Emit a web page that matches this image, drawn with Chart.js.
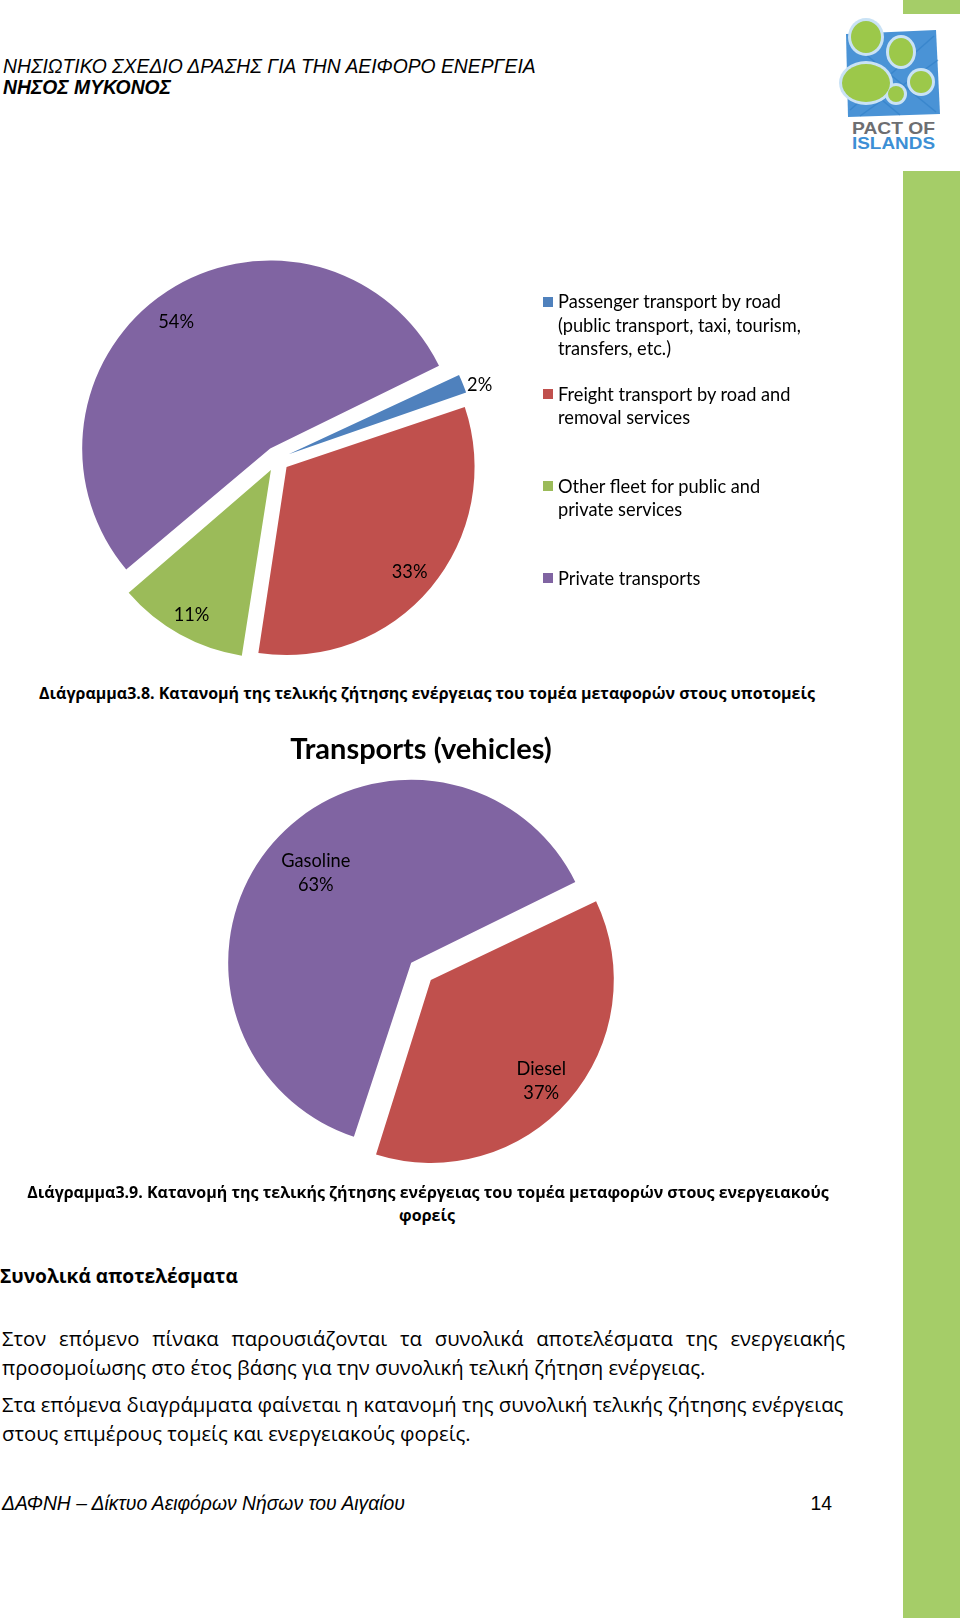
<!DOCTYPE html>
<html><head><meta charset="utf-8">
<script src="https://cdn.jsdelivr.net/npm/chart.js@4.4.1/dist/chart.umd.min.js"></script>
<style>
html,body{margin:0;padding:0;background:#fff;}
body{width:960px;height:1618px;position:relative;overflow:hidden;}
.t{position:absolute;white-space:nowrap;color:#000;line-height:1;}
.arial{font-family:"Liberation Sans",Arial,sans-serif;}
.cal{font-family:"Open Sans","Noto Sans",sans-serif;}
canvas{position:absolute;}
#legend{position:absolute;left:0;top:0;}
.lg{position:absolute;left:558px;white-space:nowrap;font-family:Lato,"Open Sans",sans-serif;color:#000;}
.sw{position:absolute;left:543px;width:10px;height:10px;}
</style></head><body>

<div style="position:absolute;left:903px;top:0;width:57px;height:14px;background:#A5CD68"></div>
<div style="position:absolute;left:903px;top:171px;width:57px;height:1447px;background:#A5CD68"></div>

<svg style="position:absolute;left:830px;top:10px" width="120" height="145" viewBox="830 10 120 145">
  <path d="M846 34 L936 30 L940 114 L848 117 Z" fill="#4A93D6"/>
  <g stroke="#2F7FC8" stroke-width="1.5" opacity="0.6">
    <line x1="848" y1="40" x2="936" y2="112"/><line x1="850" y1="110" x2="934" y2="36"/>
    <line x1="860" y1="116" x2="938" y2="60"/><line x1="846" y1="70" x2="900" y2="115"/>
  </g>
  <g fill="#C9E2F5">
    <ellipse cx="866" cy="37" rx="18" ry="19"/><ellipse cx="901" cy="52" rx="15" ry="17"/>
    <ellipse cx="866" cy="83" rx="27" ry="22"/><ellipse cx="921" cy="82" rx="14" ry="14"/>
    <ellipse cx="896" cy="94" rx="11" ry="11"/>
  </g>
  <g fill="#9CC84A">
    <ellipse cx="866" cy="37" rx="15" ry="16"/><ellipse cx="901" cy="52" rx="12" ry="14"/>
    <ellipse cx="866" cy="83" rx="24" ry="19"/><ellipse cx="921" cy="82" rx="11" ry="11"/>
    <ellipse cx="896" cy="94" rx="8" ry="8"/>
  </g>
  <text x="893.5" y="133.5" text-anchor="middle" font-family="Liberation Sans Narrow, Liberation Sans, sans-serif" font-weight="bold" font-size="17" fill="#6D6E71" textLength="83" lengthAdjust="spacingAndGlyphs">PACT OF</text>
  <text x="893.5" y="148.5" text-anchor="middle" font-family="Liberation Sans Narrow, Liberation Sans, sans-serif" font-weight="bold" font-size="17" fill="#3C8FD5" textLength="83" lengthAdjust="spacingAndGlyphs">ISLANDS</text>
</svg>

<div class="t arial" data-g="hdr" data-fit="1" data-x="3" data-cy="66.4" data-w="533" data-k="0.488" style="font-style:italic">ΝΗΣΙΩΤΙΚΟ ΣΧΕΔΙΟ ΔΡΑΣΗΣ ΓΙΑ ΤΗΝ ΑΕΙΦΟΡΟ ΕΝΕΡΓΕΙΑ</div>
<div class="t arial" data-g="hdr" data-x="3" data-cy="87" data-k="0.488" style="font-style:italic;font-weight:bold">ΝΗΣΟΣ ΜΥΚΟΝΟΣ</div>

<canvas id="c1" width="540" height="440" style="left:7px;top:239px"></canvas>
<div id="legend"></div>

<div class="t cal" data-g="cap" data-cx="427" data-cy="693.5" data-k="0.55" style="font-weight:bold">Διάγραμμα3.8. Κατανομή της τελικής ζήτησης ενέργειας του τομέα μεταφορών στους υποτομείς</div>

<canvas id="c2" width="560" height="470" style="left:141px;top:723px"></canvas>

<div class="t cal" data-g="cap" data-fit="1" data-cx="428" data-cy="1192.3" data-w="802" data-k="0.55" style="font-weight:bold">Διάγραμμα3.9. Κατανομή της τελικής ζήτησης ενέργειας του τομέα μεταφορών στους ενεργειακούς</div>
<div class="t cal" data-g="cap" data-cx="427" data-cy="1217" data-k="0.6" style="font-weight:bold">φορείς</div>

<div class="t cal" data-g="hd" data-fit="1" data-x="0" data-cy="1278" data-w="238" data-k="0.55" style="font-weight:bold">Συνολικά αποτελέσματα</div>

<div class="t cal" data-g="body" data-x="2" data-cy="1340" data-k="0.6" data-just="843" style="text-align:justify;text-align-last:justify;white-space:normal">Στον επόμενο πίνακα παρουσιάζονται τα συνολικά αποτελέσματα της ενεργειακής</div>
<div class="t cal" data-g="body" data-x="2" data-cy="1368.8" data-k="0.6">προσομοίωσης στο έτος βάσης για την συνολική τελική ζήτηση ενέργειας.</div>
<div class="t cal" data-g="body" data-fit="1" data-x="2" data-cy="1406" data-w="842" data-k="0.6">Στα επόμενα διαγράμματα φαίνεται η κατανομή της συνολική τελικής ζήτησης ενέργειας</div>
<div class="t cal" data-g="body" data-x="2" data-cy="1435" data-k="0.6">στους επιμέρους τομείς και ενεργειακούς φορείς.</div>

<div class="t arial" data-g="ftr" data-fit="1" data-x="2" data-cy="1503.5" data-w="403" data-k="0.488" style="font-style:italic">ΔΑΦΝΗ – Δίκτυο Αειφόρων Νήσων του Αιγαίου</div>
<div class="t arial" data-g="ftr" data-rx="832" data-cy="1503.5" data-k="0.488">14</div>

<script>
// ---- chart data ----
const subsectorLabels = [
  ['Passenger transport by road', '(public transport, taxi, tourism,', 'transfers, etc.)'],
  ['Freight transport by road and', 'removal services'],
  ['Other fleet for public and', 'private services'],
  ['Private transports']
];
const subsectorShares = [1.9, 32.6, 11.3, 54.2];
const subsectorColors = ['#4F81BD', '#C0504D', '#9BBB59', '#8064A2'];

const fuelLabels = ['Gasoline', 'Diesel'];
const fuelShares = [63, 37];
const fuelColors = ['#8064A2', '#C0504D'];

// ---- text fitting ----
const groups = {};
document.querySelectorAll('.t[data-fit]').forEach(el => {
  el.style.fontSize = '20px';
  const w = el.getBoundingClientRect().width;
  groups[el.dataset.g] = 20 * parseFloat(el.dataset.w) / w;
});
document.querySelectorAll('.t').forEach(el => {
  const fs = groups[el.dataset.g];
  el.style.fontSize = fs + 'px';
  if (el.dataset.just) el.style.width = el.dataset.just + 'px';
  const w = el.getBoundingClientRect().width;
  let left;
  if (el.dataset.cx) left = parseFloat(el.dataset.cx) - w / 2;
  else if (el.dataset.rx) left = parseFloat(el.dataset.rx) - w;
  else left = parseFloat(el.dataset.x);
  el.style.left = left + 'px';
  el.style.top = (parseFloat(el.dataset.cy) - parseFloat(el.dataset.k) * fs) + 'px';
});

// ---- legend font fit ----
const probe = document.createElement('span');
probe.className = 'lg';
probe.style.fontSize = '20px';
probe.textContent = subsectorLabels[0][1];
document.body.appendChild(probe);
const legendFs = 20 * 243 / probe.getBoundingClientRect().width;
probe.remove();

// ---- exploded arcs: keep every slice at the same radius ----
const arcProto = Chart.ArcElement.prototype;
const baseDraw = arcProto.draw;
arcProto.draw = function (ctx) {
  const shift = (this.options.offset || 0) / 4;
  const fix = 1 - Math.sin(Math.min(Math.PI, this.circumference || 0));
  const r = this.outerRadius;
  this.outerRadius = r - shift * fix;
  baseDraw.call(this, ctx);
  this.outerRadius = r;
};

const sliceLabels = {
  id: 'sliceLabels',
  afterDatasetsDraw(chart, args, opts) {
    const ctx = chart.ctx;
    const meta = chart.getDatasetMeta(0);
    const ds = chart.data.datasets[0];
    const total = ds.data.reduce((a, b) => a + b, 0);
    ctx.save();
    ctx.font = opts.size + 'px Lato, "Open Sans", sans-serif';
    ctx.fillStyle = '#000';
    ctx.textAlign = 'center';
    ctx.textBaseline = 'alphabetic';
    meta.data.forEach((arc, i) => {
      const p = arc.getProps(['x', 'y', 'startAngle', 'endAngle', 'outerRadius'], true);
      const mid = (p.startAngle + p.endAngle) / 2 + (opts.turn[i] || 0) * Math.PI / 180;
      const shift = (arc.options.offset || 0) / 4;
      const d = shift + p.outerRadius * opts.radii[i];
      const cx = p.x + Math.cos(mid) * d;
      const cy = p.y + Math.sin(mid) * d + (opts.dy || 0);
      const pct = Math.round(ds.data[i] / total * 100) + '%';
      const lines = opts.showName ? [chart.data.labels[i], pct] : [pct];
      lines.forEach((ln, k) => {
        ctx.fillText(ln, cx, cy + (k - (lines.length - 1) / 2) * opts.lineHeight + 0.42 * opts.size);
      });
    });
    ctx.restore();
  }
};

const chart1 = new Chart(document.getElementById('c1'), {
  type: 'pie',
  data: {
    labels: subsectorLabels,
    datasets: [{ data: subsectorShares, backgroundColor: subsectorColors, borderWidth: 0, offset: 50, clip: false }]
  },
  options: {
    responsive: false, animation: false, rotation: 64.5, radius: 188,
    layout: { padding: 0 },
    events: [],
    plugins: {
      legend: { display: false }, tooltip: { enabled: false },
      sliceLabels: { size: legendFs, radii: [1.085, 0.855, 0.87, 0.845], turn: [1.5, 0, 0, -3], lineHeight: 23.5, showName: false }
    }
  },
  plugins: [sliceLabels]
});

// HTML legend built from the chart's own labels/colours
const legend = document.getElementById('legend');
chart1.data.labels.forEach((lines, i) => {
  const c = 301.6 + i * 92.2;
  const sw = document.createElement('div');
  sw.className = 'sw';
  sw.style.background = subsectorColors[i];
  sw.style.top = (c - 5) + 'px';
  legend.appendChild(sw);
  const tx = document.createElement('div');
  tx.className = 'lg';
  tx.style.fontSize = legendFs + 'px';
  tx.style.lineHeight = '23.5px';
  tx.style.top = (c + 3 - 23.5 / 2 - 0.137 * legendFs) + 'px';
  tx.innerHTML = lines.join('<br>');
  legend.appendChild(tx);
});

new Chart(document.getElementById('c2'), {
  type: 'pie',
  data: {
    labels: fuelLabels,
    datasets: [{ data: fuelShares, backgroundColor: fuelColors, borderWidth: 0, offset: 52, clip: false }]
  },
  options: {
    responsive: false, animation: false, rotation: 197.6, radius: 183,
    layout: { padding: { top: 0, bottom: 27.4, left: 0, right: 0 } },
    events: [],
    plugins: {
      legend: { display: false }, tooltip: { enabled: false },
      title: { display: true, text: 'Transports (vehicles)', color: '#000',
               font: { family: 'Lato', size: 29, weight: 'bold', lineHeight: 1.2 },
               padding: { top: 9.4, bottom: 10 } },
      sliceLabels: { size: legendFs, radii: [0.715, 0.82], turn: [2, 1.5], dy: -2, lineHeight: 23.6, showName: true }
    }
  },
  plugins: [sliceLabels]
});
</script>
</body></html>
